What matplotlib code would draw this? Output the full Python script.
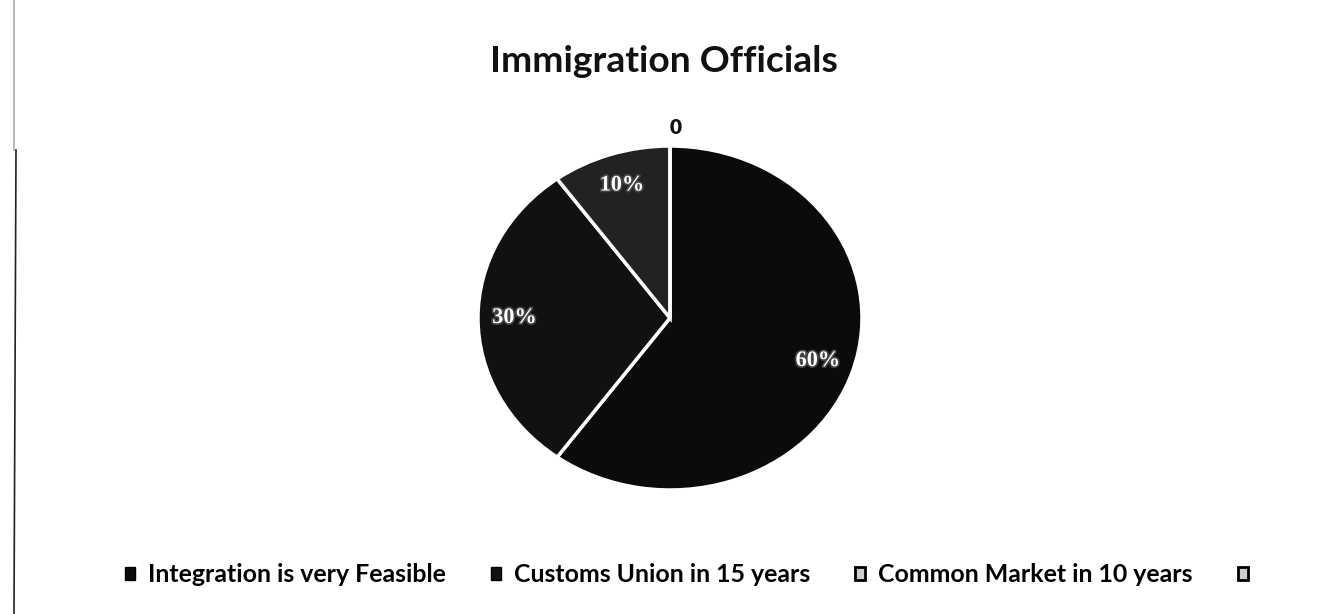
import matplotlib
matplotlib.use('Agg')
import matplotlib.pyplot as plt
import matplotlib.patheffects as pe
from matplotlib.patches import Patch

categories = ['Integration is very Feasible', 'Customs Union in 15 years',
              'Common Market in 10 years', '']
values = [60, 30, 10, 0]
colors = ['#0b0b0b', '#111111', '#222222', '#3a3a3a']
title = 'Immigration Officials'

plt.rcParams['font.family'] = ['Lato', 'DejaVu Sans']

W, H = 1317, 614
fig = plt.figure(figsize=(W / 100, H / 100), dpi=100)
fig.patch.set_facecolor('white')
renderer = fig.canvas.get_renderer()

def fit_size(text, width_px, size=20):
    # font size that makes the bold text about width_px wide
    t = fig.text(0, 0, text, fontsize=size, fontweight='bold')
    w = t.get_window_extent(renderer).width
    t.remove()
    return size * width_px / w

# pie is slightly wider than tall in the reference
cx, cy, rx, ry = 670, H - 318, 192, 172
ax = fig.add_axes([(cx - rx) / W, (cy - ry) / H, 2 * rx / W, 2 * ry / H])

def pct(p):
    return '' if p < 0.5 else '%d%%' % round(p)

wedges, texts, autotexts = ax.pie(
    values, colors=colors, startangle=90, counterclock=False,
    autopct=pct, pctdistance=0.81,
    labels=['', '', '', '0'], labeldistance=1.11,
    wedgeprops=dict(edgecolor='white', linewidth=2.5),
    textprops=dict(fontsize=15, fontweight='heavy', color='#111111'))
ax.set_aspect('auto')
ax.set_xlim(-1, 1)
ax.set_ylim(-1, 1)

for t in autotexts:
    t.set_color('white')
    t.set_fontsize(16)
    t.set_family(['Liberation Serif'])
    t.set_path_effects([pe.withStroke(linewidth=2.5, foreground='#444444')])

# title, baseline at y=72 px from the top
fig.text(490 / W, 1 - 72 / H, title, ha='left', va='baseline',
         fontsize=fit_size(title, 348), fontweight='bold', color='#111111')

fs = fit_size(categories[0], 299)
fpx = fs * 100 / 72
handles = [Patch(facecolor=colors[0], edgecolor='black'),
           Patch(facecolor=colors[1], edgecolor='black'),
           Patch(facecolor='#cccccc', edgecolor='black', linewidth=2),
           Patch(facecolor='#cccccc', edgecolor='black', linewidth=2)]
fig.legend(handles, categories, loc='center left', bbox_to_anchor=(125 / W, 1 - 575 / H),
           ncol=4, frameon=False, borderpad=0, borderaxespad=0,
           handlelength=10 / fpx, handleheight=10 / fpx,
           handletextpad=13 / fpx, columnspacing=45 / fpx,
           prop=dict(size=fs, weight='bold'))

# scanned page border on the left
fig.add_artist(plt.Line2D([14 / W, 14 / W], [1 - 150 / H, 1], color='#aaaaaa', linewidth=1.2))
fig.add_artist(plt.Line2D([14 / W, 16 / W], [0, 1 - 150 / H], color='#222222', linewidth=1.2))

fig.savefig('out.png', dpi=100, facecolor='white')
